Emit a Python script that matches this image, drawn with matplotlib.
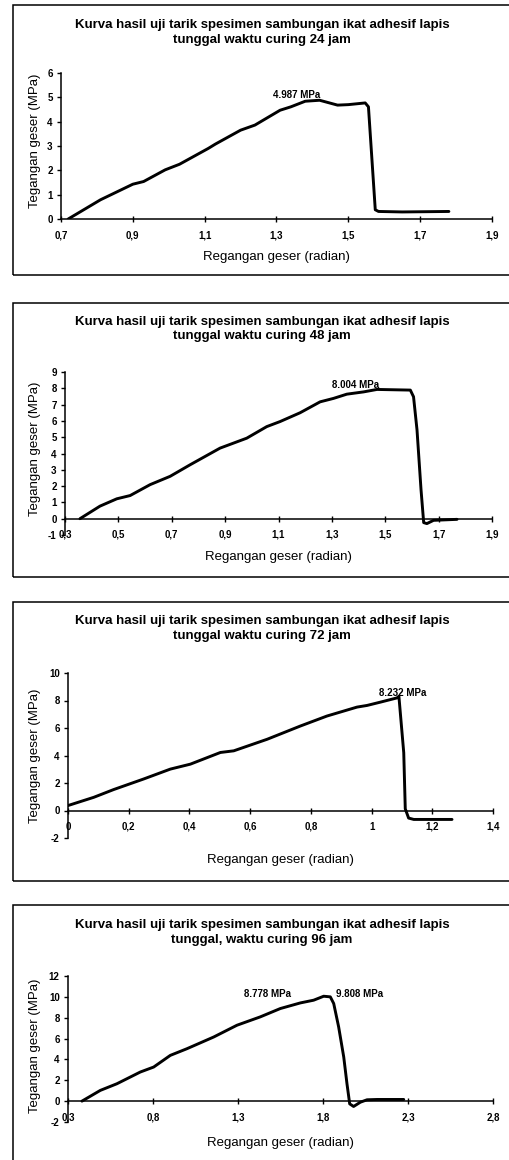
import numpy as np
import matplotlib
matplotlib.use('Agg')
import matplotlib.pyplot as plt
from matplotlib.patches import Rectangle
from matplotlib.ticker import FuncFormatter

plt.rcParams['font.family'] = ['Liberation Sans', 'DejaVu Sans']

W, H = 509, 1160

# data
x24 = [0.72, 0.81, 0.90, 0.93, 0.99, 1.03, 1.11, 1.13, 1.20, 1.24, 1.31, 1.34, 1.38, 1.42, 1.47, 1.50, 1.547, 1.556, 1.575, 1.584, 1.65, 1.78]
y24 = [0.0, 0.79, 1.43, 1.54, 2.02, 2.25, 2.90, 3.08, 3.65, 3.86, 4.47, 4.61, 4.84, 4.88, 4.68, 4.70, 4.77, 4.61, 0.38, 0.31, 0.29, 0.31]

x48 = [0.356, 0.431, 0.494, 0.544, 0.619, 0.694, 0.769, 0.881, 0.981, 1.056, 1.106, 1.181, 1.256, 1.306, 1.356, 1.419, 1.469, 1.594, 1.606, 1.619, 1.634, 1.644, 1.656, 1.681, 1.769]
y48 = [0.0, 0.77, 1.22, 1.42, 2.09, 2.60, 3.31, 4.33, 4.94, 5.65, 5.96, 6.50, 7.17, 7.38, 7.64, 7.78, 7.93, 7.89, 7.48, 5.45, 1.79, -0.24, -0.30, -0.10, -0.04]

x72 = [0.0, 0.085, 0.15, 0.249, 0.337, 0.403, 0.502, 0.546, 0.656, 0.765, 0.853, 0.952, 0.985, 1.029, 1.084, 1.09, 1.106, 1.111, 1.122, 1.139, 1.265]
y72 = [0.36, 0.96, 1.52, 2.29, 3.01, 3.37, 4.22, 4.34, 5.18, 6.14, 6.87, 7.52, 7.64, 7.88, 8.19, 8.31, 4.2, 0.12, -0.55, -0.65, -0.65]

x96 = [0.382, 0.49, 0.588, 0.725, 0.804, 0.902, 1.0, 1.157, 1.294, 1.431, 1.549, 1.667, 1.745, 1.804, 1.843, 1.863, 1.892, 1.922, 1.941, 1.957, 1.98, 2.02, 2.059, 2.118, 2.275]
y96 = [0.0, 1.03, 1.67, 2.79, 3.27, 4.39, 5.03, 6.15, 7.28, 8.08, 8.88, 9.42, 9.68, 10.06, 10.0, 9.36, 7.12, 4.23, 1.67, -0.26, -0.51, -0.10, 0.13, 0.16, 0.16]

titles = ['Kurva hasil uji tarik spesimen sambungan ikat adhesif lapis\ntunggal waktu curing 24 jam',
          'Kurva hasil uji tarik spesimen sambungan ikat adhesif lapis\ntunggal waktu curing 48 jam',
          'Kurva hasil uji tarik spesimen sambungan ikat adhesif lapis\ntunggal waktu curing 72 jam',
          'Kurva hasil uji tarik spesimen sambungan ikat adhesif lapis\ntunggal, waktu curing 96 jam']

xlims = [(0.7, 1.9), (0.3, 1.9), (0.0, 1.4), (0.3, 2.8)]
xsteps = [0.2, 0.2, 0.2, 0.5]
ylims = [(0, 6), (-1, 9), (-2, 10), (-2, 12)]
ysteps = [1, 1, 2, 2]

notes = [[('4.987 MPa', 1.357, 5.09)],
         [('8.004 MPa', 1.388, 8.19)],
         [('8.232 MPa', 1.102, 8.55)],
         [('8.778 MPa', 1.473, 10.32), ('9.808 MPa', 2.014, 10.32)]]

series = [(x24, y24), (x48, y48), (x72, y72), (x96, y96)]

# layout in pixels: axes (left, right, top, bottom), box (top, bottom), title mid, label positions
ax_px = [(61, 492, 73, 219), (65, 492, 372, 535), (68, 493, 673, 838), (68, 493, 976, 1122)]
box_px = [(5, 275), (303, 577), (602, 881), (905, 1200)]
title_px = [32.5, 329, 628.5, 932.5]
xlab_px = [257, 557, 860, 1143]
ylab_px = [141, 449, 756, 1046]
ylab_x = 35

fig = plt.figure(figsize=(W / 100, H / 100), dpi=100)
fmt = FuncFormatter(lambda v, p: ('%g' % round(v, 3)).replace('.', ','))

for i in range(4):
    l, r, t, b = ax_px[i]
    ax = fig.add_axes([l / W, 1 - b / H, (r - l) / W, (b - t) / H])
    xs, ys = series[i]
    ax.plot(xs, ys, color='black', lw=2.1, solid_joinstyle='round', solid_capstyle='round')
    x0, x1 = xlims[i]
    y0, y1 = ylims[i]
    ax.set_xlim(x0, x1)
    ax.set_ylim(y0, y1)
    ax.set_xticks(np.arange(x0, x1 + 1e-6, xsteps[i]))
    ax.set_yticks(np.arange(y0, y1 + 1e-6, ysteps[i]))
    ax.xaxis.set_major_formatter(fmt)
    ax.yaxis.set_major_formatter(fmt)
    for s in ['top', 'right']:
        ax.spines[s].set_visible(False)
    ax.spines['bottom'].set_position(('data', 0))
    ax.spines['bottom'].set_linewidth(1.1)
    ax.spines['left'].set_linewidth(1.1)
    ax.tick_params(axis='x', direction='inout', length=4, width=1, labelsize=7, pad=6)
    ax.tick_params(axis='y', direction='out', length=3, width=1, labelsize=7, pad=3)
    for lab in ax.get_xticklabels() + ax.get_yticklabels():
        lab.set_fontweight('bold')
    ax.set_xlabel('Regangan geser (radian)', fontsize=9.5)
    ax.set_ylabel('Tegangan geser (MPa)', fontsize=9.5)
    ax.xaxis.label.set_va('center')
    ax.yaxis.label.set_va('center')
    ax.xaxis.set_label_coords(0.5, (b - xlab_px[i]) / (b - t))
    ax.yaxis.set_label_coords((ylab_x - l) / (r - l), (b - ylab_px[i]) / (b - t))
    for txt, tx, ty in notes[i]:
        ax.text(tx, ty, txt, ha='center', va='center', fontsize=7, fontweight='bold')
    ax.patch.set_alpha(0)

    bt, bb = box_px[i]
    fig.patches.append(Rectangle((13 / W, 1 - bb / H), 1.2, (bb - bt) / H, transform=fig.transFigure,
                                 fill=False, edgecolor='black', lw=1.1))
    fig.text(262 / W, 1 - title_px[i] / H, titles[i], ha='center', va='center',
             fontsize=9.5, fontweight='bold', linespacing=1.3)

fig.savefig('out.png', dpi=100)
